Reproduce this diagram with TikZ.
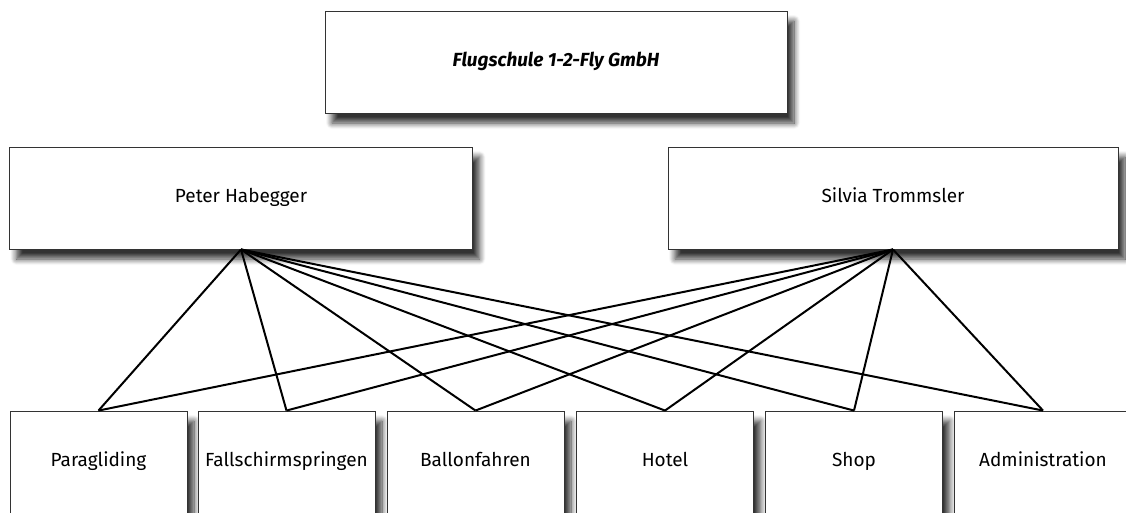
\documentclass[tikz,border=0pt]{standalone}
\usepackage{fontspec}
\setmainfont{Fira Sans}
\usetikzlibrary{positioning, shadows.blur}

\begin{document}
\begin{tikzpicture}[x=1pt, y=-1pt, every node/.style={font=\fontsize{19}{22}\selectfont},
  unit/.style={rectangle, draw=black!80, fill=white, line width=0.9pt, inner sep=0pt,
    text height=13pt, text depth=4pt,
    blur shadow={shadow xshift=7pt, shadow yshift=-10pt, shadow blur radius=6pt, shadow blur steps=10, shadow opacity=80}},
  team/.style={unit, minimum width=177pt, minimum height=102pt},
  link/.style={line width=2pt, black}]
\clip (0,0) rectangle (1126,512);

% Define the nodes
\node[unit, minimum width=462pt, minimum height=102pt] (firm) at (556,62) {\textbf{\textit{Flugschule 1-2-Fly GmbH}}};

\node[unit, minimum width=463pt, minimum height=102pt] (peter) at (241,198) {Peter Habegger};
\node[unit, minimum width=450pt, minimum height=102pt] (silvia) at (893,198) {Silvia Trommsler};

\node[team] (para) at (98.5,462) {Paragliding};
\node[team] (fall) at (286.5,462) {Fallschirmspringen};
\node[team] (ballon) at (475.5,462) {Ballonfahren};
\node[team] (hotel) at (665,462) {Hotel};
\node[team] (shop) at (854,462) {Shop};
\node[team] (admin) at (1043,462) {Administration};

% Draw the lines
\foreach \d in {para, fall, ballon, hotel, shop, admin} {
  \draw[link] (peter.south) -- (\d.north);
  \draw[link] (silvia.south) -- (\d.north);
}
\end{tikzpicture}
\end{document}
